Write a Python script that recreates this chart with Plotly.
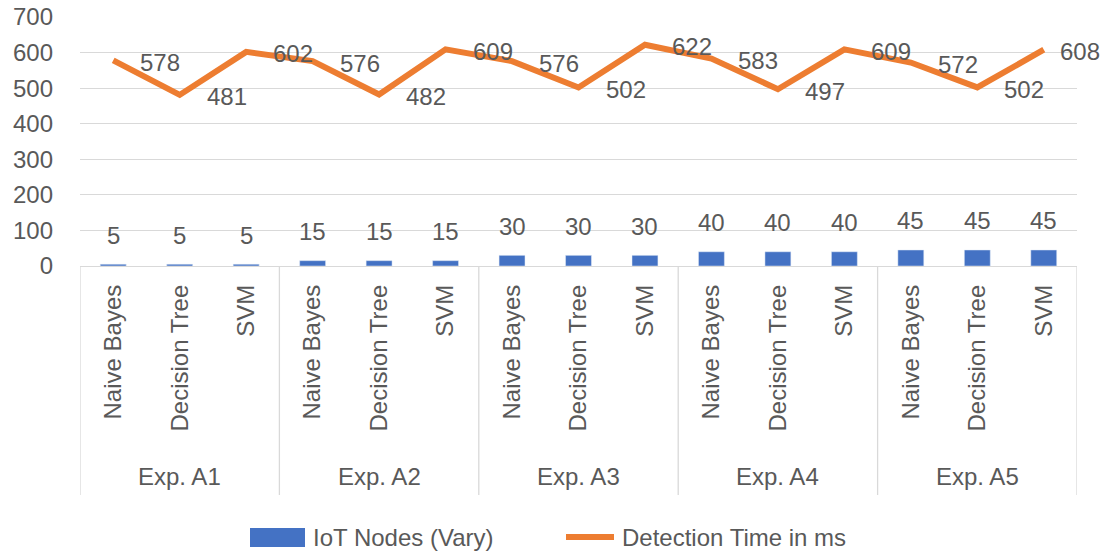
import plotly.graph_objects as go

experiments = ["Exp. A1", "Exp. A2", "Exp. A3", "Exp. A4", "Exp. A5"]
algorithms = ["Naive Bayes", "Decision Tree", "SVM"]
iot_nodes = [5, 5, 5, 15, 15, 15, 30, 30, 30, 40, 40, 40, 45, 45, 45]
detection_time = [578, 481, 602, 576, 482, 609, 576, 502, 622, 583, 497, 609, 572, 502, 608]
y_ticks = [0, 100, 200, 300, 400, 500, 600, 700]

FONT = "Liberation Sans"
GRAY = "#595959"
BLUE = "#4472C4"
ORANGE = "#ED7D31"

n = len(iot_nodes)
xs = list(range(n))
tick_text = [a for _ in experiments for a in algorithms]

fig = go.Figure()
fig.add_trace(go.Bar(x=xs, y=iot_nodes, marker_color=BLUE, width=0.39,
                     name="IoT Nodes (Vary)", showlegend=False))
fig.add_trace(go.Scatter(x=xs, y=detection_time, mode="lines",
                         line=dict(color=ORANGE, width=6),
                         name="Detection Time in ms", showlegend=False))

annotations = []
for i, v in enumerate(iot_nodes):
    annotations.append(dict(x=i, y=v, xref="x", yref="y", text=str(v), showarrow=False,
                            yshift=29, font=dict(size=24, color=GRAY, family=FONT)))
for i, v in enumerate(detection_time):
    annotations.append(dict(x=i, y=v, xref="x", yref="y", text=str(v), showarrow=False,
                            xanchor="left", xshift=25 if i < n - 1 else 14, yshift=-2,
                            font=dict(size=24, color=GRAY, family=FONT)))

# group labels and separators
plot_l, plot_r, plot_t, plot_b = 80, 1077, 17, 266
ph = plot_b - plot_t
pw = plot_r - plot_l
def py(p):
    return (plot_b - p) / ph
def px(p):
    return (p - plot_l) / pw

shapes = []
k = len(algorithms)
for g, name in enumerate(experiments):
    annotations.append(dict(x=g * k + (k - 1) / 2, y=py(477), xref="x", yref="paper",
                            text=name, showarrow=False, yanchor="middle",
                            font=dict(size=24, color=GRAY, family=FONT)))
for b in range(len(experiments) + 1):
    xb = b * k - 0.5
    shapes.append(dict(type="line", xref="x", yref="paper", x0=xb, x1=xb,
                       y0=0, y1=py(495), line=dict(color="#d9d9d9", width=1.3)))

# custom legend
shapes.append(dict(type="rect", xref="paper", yref="paper", x0=px(250), x1=px(305),
                   y0=py(547), y1=py(528), fillcolor=BLUE, line=dict(width=0)))
shapes.append(dict(type="line", xref="paper", yref="paper", x0=px(566), x1=px(614),
                   y0=py(537), y1=py(537), line=dict(color=ORANGE, width=6)))
annotations.append(dict(x=px(311), y=py(537), xref="paper", yref="paper", xanchor="left",
                        yanchor="middle", text="IoT Nodes (Vary)", showarrow=False,
                        font=dict(size=24, color=GRAY, family=FONT)))
annotations.append(dict(x=px(620), y=py(537), xref="paper", yref="paper", xanchor="left",
                        yanchor="middle", text="Detection Time in ms", showarrow=False,
                        font=dict(size=24, color=GRAY, family=FONT)))

fig.update_layout(
    width=1107, height=554,
    margin=dict(l=plot_l, r=1107 - plot_r, t=plot_t, b=554 - plot_b, autoexpand=False),
    paper_bgcolor="white", plot_bgcolor="white",
    font=dict(family=FONT, size=24, color=GRAY),
    xaxis=dict(range=[-0.5, n - 0.5], tickmode="array", tickvals=xs, ticktext=tick_text,
               tickangle=-90, ticks="", showgrid=False, zeroline=False, automargin=False,
               showline=True, linecolor="#d9d9d9", linewidth=1.3,
               ticklabelstandoff=8, tickfont=dict(size=24, color=GRAY, family=FONT)),
    yaxis=dict(range=[0, 700], tickmode="array", tickvals=y_ticks, ticks="", automargin=False,
               showgrid=True, gridcolor="#d9d9d9", gridwidth=1.3, zeroline=False,
               ticklabelstandoff=26, tickfont=dict(size=24, color=GRAY, family=FONT)),
    shapes=shapes, annotations=annotations, showlegend=False,
)

fig.write_html("out.html", config={"displayModeBar": False},
               post_script="document.body.style.margin='0';document.body.style.overflow='hidden';")
